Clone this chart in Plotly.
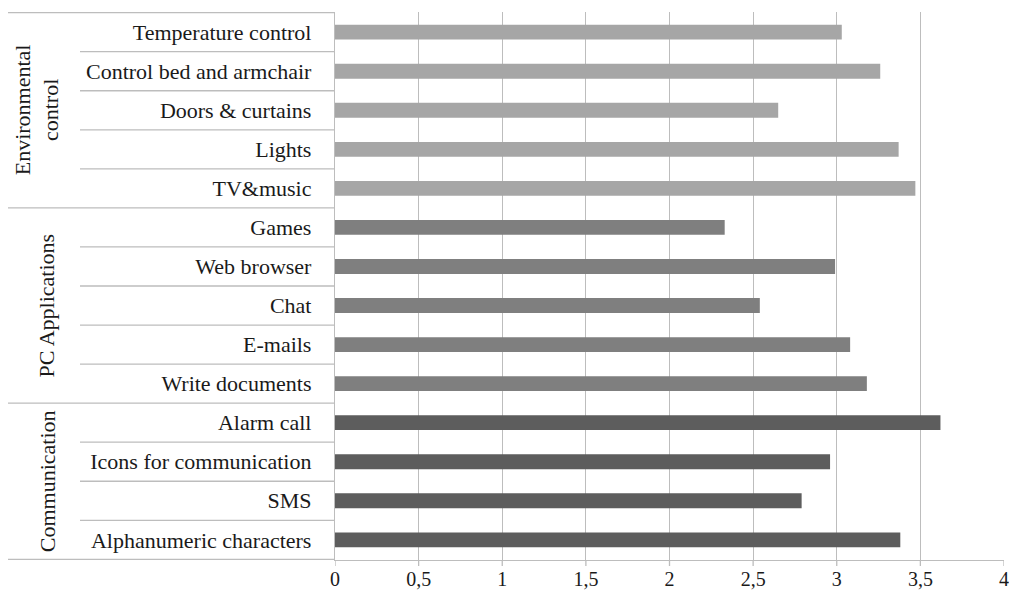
import plotly.graph_objects as go

# Items listed top to bottom, with their group
groups = ["Environmental<br>control", "PC Applications", "Communication"]
group_items = [
    ["Temperature control", "Control bed and armchair", "Doors & curtains", "Lights", "TV&music"],
    ["Games", "Web browser", "Chat", "E-mails", "Write documents"],
    ["Alarm call", "Icons for communication", "SMS", "Alphanumeric characters"],
]
group_values = [
    [3.03, 3.26, 2.65, 3.37, 3.47],
    [2.33, 2.99, 2.54, 3.08, 3.18],
    [3.62, 2.96, 2.79, 3.38],
]
group_colors = ["#a6a6a6", "#7f7f7f", "#5d5d5d"]
x_ticks = [0, 0.5, 1, 1.5, 2, 2.5, 3, 3.5, 4]

W, H = 1009, 591
L, R, T, B = 335, 5, 12, 31
plot_w = W - L - R
plot_h = H - T - B
SERIF = "Liberation Serif, Tinos, Times New Roman, serif"


def px_to_paper(px):
    return (px - L) / plot_w


labels, values, colors = [], [], []
for items, vals, col in zip(group_items, group_values, group_colors):
    labels += items
    values += vals
    colors += [col] * len(items)

fig = go.Figure(
    go.Bar(
        y=labels,
        x=values,
        orientation="h",
        marker=dict(color=colors, line=dict(width=0)),
        width=0.38,
    )
)

line_col = "#bdbdbd"
shapes = []
n = len(labels)
# Row separators in the category area
starts = []
k = 0
for items in group_items:
    starts.append(k)
    k += len(items)
group_edges = set(starts + [n])
for i in range(n + 1):
    x0 = px_to_paper(8) if i in group_edges else px_to_paper(80)
    shapes.append(dict(type="line", xref="paper", yref="y",
                       x0=x0, x1=0, y0=i - 0.5, y1=i - 0.5,
                       line=dict(color=line_col, width=1.3)))
# Short tick marks below the value axis
for t in x_ticks:
    shapes.append(dict(type="line", xref="x", yref="paper",
                       x0=t, x1=t, y0=0, y1=-6 / plot_h,
                       line=dict(color=line_col, width=1.3)))

annotations = []
for g, items, s in zip(groups, group_items, starts):
    mid = s + (len(items) - 1) / 2
    xc = 37 if "<br>" in g else 47
    annotations.append(dict(
        text=g, xref="paper", yref="y", x=px_to_paper(xc), y=mid,
        textangle=-90, showarrow=False, xanchor="center", yanchor="middle",
        font=dict(family=SERIF, size=22, color="#1a1a1a"),
    ))

fig.update_layout(
    width=W, height=H,
    margin=dict(l=L, r=R, t=T, b=B, pad=0, autoexpand=False),
    paper_bgcolor="white", plot_bgcolor="white",
    separators=",.",
    showlegend=False,
    bargap=0.62,
    shapes=shapes,
    annotations=annotations,
    font=dict(family=SERIF, size=22, color="#1a1a1a"),
    xaxis=dict(
        range=[0, 4], tickmode="array", tickvals=x_ticks,
        automargin=False,
        showgrid=True, gridcolor=line_col, gridwidth=1.3,
        zeroline=False,
        showline=True, linecolor=line_col, linewidth=1.3,
        ticks="", ticklabelstandoff=1,
        ticklabeloverflow="allow",
        tickfont=dict(family=SERIF, size=20, color="#1a1a1a"),
    ),
    yaxis=dict(
        type="category",
        autorange="reversed",
        automargin=False,
        showgrid=False, zeroline=False,
        showline=True, linecolor=line_col, linewidth=1.3,
        ticks="", ticklabelstandoff=18,
        tickfont=dict(family=SERIF, size=22, color="#1a1a1a"),
    ),
)

fig.write_html("out.html")
